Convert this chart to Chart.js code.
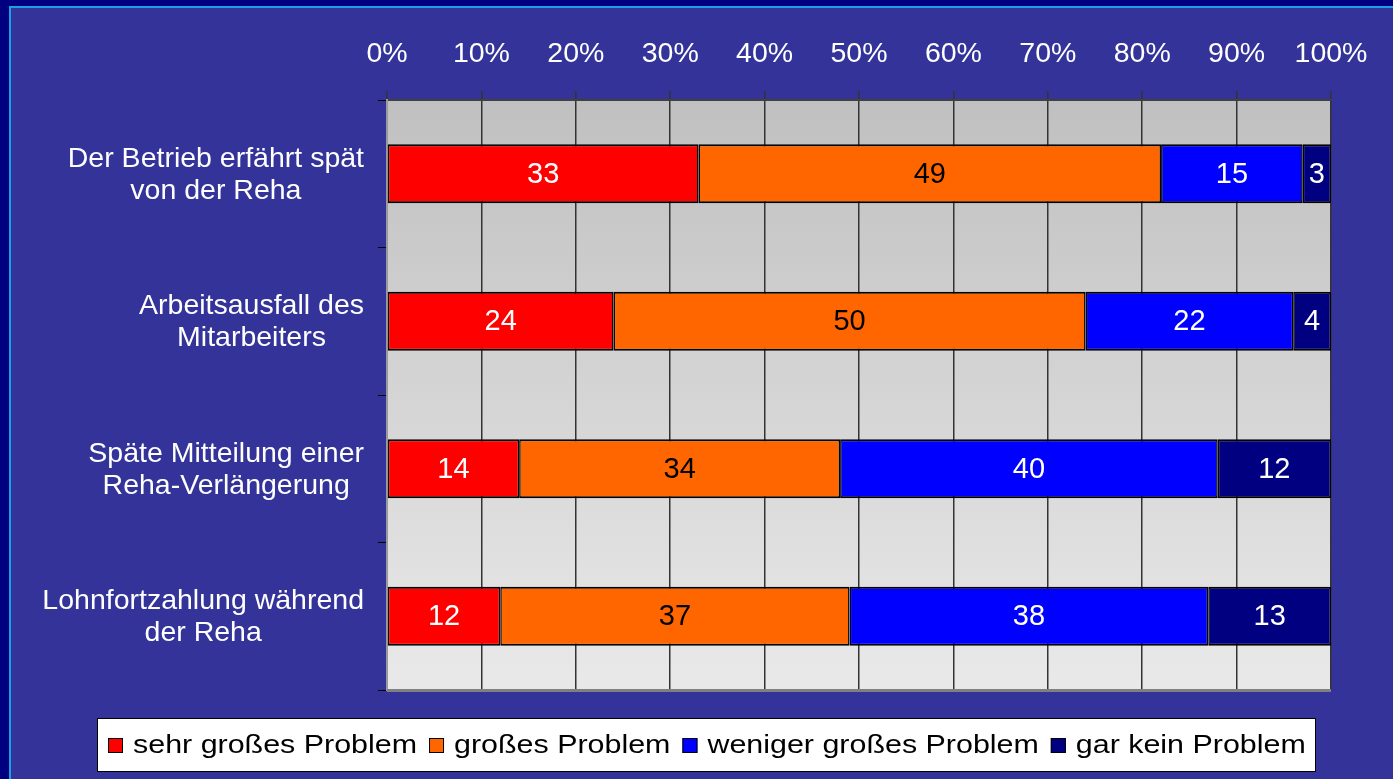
<!DOCTYPE html>
<html lang="de">
<head>
<meta charset="utf-8">
<title>Probleme für den Betrieb</title>
<script src="https://cdn.jsdelivr.net/npm/chart.js"></script>
<style>
  html, body { margin: 0; padding: 0; background: #000080; overflow: hidden; }
  canvas { display: block; }
</style>
</head>
<body>
<canvas id="problemChart" width="1393" height="779"></canvas>
<script>
// categories (two-line labels) and the four answer groups, in percent
const categories = [
    ['Der Betrieb erfährt spät', 'von der Reha'],
    ['Arbeitsausfall des', 'Mitarbeiters'],
    ['Späte Mitteilung einer', 'Reha-Verlängerung'],
    ['Lohnfortzahlung während', 'der Reha']
];
const seriesNames = ['sehr großes Problem', 'großes Problem', 'weniger großes Problem', 'gar kein Problem'];
const sehrGross = [33, 24, 14, 12];
const gross = [49, 50, 34, 37];
const wenigerGross = [15, 22, 40, 38];
const garKein = [3, 4, 12, 13];
const seriesColors = ['#ff0000', '#ff6600', '#0000ff', '#000080'];
const valueColors = ['#ffffff', '#000000', '#ffffff', '#ffffff'];

const FONT = '"Liberation Sans", Arial, sans-serif';

// slide background with the light frame line
const slideBackground = {
    id: 'slideBackground',
    beforeDraw(chart) {
        const ctx = chart.ctx;
        const area = chart.chartArea;
        ctx.save();
        ctx.fillStyle = '#000080';
        ctx.fillRect(0, 0, chart.width, chart.height);
        ctx.fillStyle = '#333399';
        ctx.fillRect(10, 7, chart.width, chart.height);
        ctx.strokeStyle = '#1ba1e2';
        ctx.lineWidth = 2;
        ctx.beginPath();
        ctx.moveTo(chart.width, 7);
        ctx.lineTo(10, 7);
        ctx.lineTo(10, chart.height);
        ctx.stroke();
        // grey gradient of the plot area
        const grad = ctx.createLinearGradient(0, area.top, 0, area.bottom);
        grad.addColorStop(0, '#c0c0c0');
        grad.addColorStop(1, '#e9e9e9');
        ctx.fillStyle = grad;
        ctx.fillRect(area.left, area.top, area.right - area.left, area.bottom - area.top);
        ctx.restore();
    },
    beforeDatasetsDraw(chart) {
        const ctx = chart.ctx;
        const area = chart.chartArea;
        ctx.save();
        ctx.fillStyle = '#808080';
        ctx.fillRect(area.left, area.bottom - 1, area.right - area.left, 3);
        ctx.restore();
    }
};

// value labels in the middle of each segment
const valueLabels = {
    id: 'valueLabels',
    afterDatasetsDraw(chart) {
        const ctx = chart.ctx;
        ctx.save();
        ctx.font = '29px ' + FONT;
        ctx.textAlign = 'center';
        ctx.textBaseline = 'middle';
        chart.data.datasets.forEach((ds, i) => {
            const meta = chart.getDatasetMeta(i);
            meta.data.forEach((bar, j) => {
                const p = bar.getProps(['x', 'y', 'base'], true);
                ctx.fillStyle = valueColors[i];
                ctx.fillText(String(ds.data[j]), (p.x + p.base) / 2, p.y + 1);
            });
        });
        ctx.restore();
    }
};

// category labels: each block right aligned, lines centred inside the block
const categoryLabels = {
    id: 'categoryLabels',
    afterDraw(chart) {
        const ctx = chart.ctx;
        const yScale = chart.scales.y;
        const area = chart.chartArea;
        ctx.save();
        ctx.font = '28.5px ' + FONT;
        ctx.fillStyle = '#ffffff';
        ctx.textAlign = 'center';
        ctx.textBaseline = 'middle';
        categories.forEach((lines, i) => {
            const py = yScale.getPixelForValue(i);
            const w = Math.max(...lines.map(l => ctx.measureText(l).width));
            const cx = area.left - 23 - w / 2;
            lines.forEach((line, k) => {
                ctx.fillText(line, cx, py + 1 + (k - (lines.length - 1) / 2) * 32);
            });
        });
        ctx.restore();
    }
};

// legend in a white box below the plot
const legendBox = {
    id: 'legendBox',
    afterDraw(chart) {
        const ctx = chart.ctx;
        const area = chart.chartArea;
        const fontSize = 26, stretch = 1.17, box = 15, gapIn = 10, gapOut = 12;
        ctx.save();
        ctx.font = fontSize + 'px ' + FONT;
        const widths = seriesNames.map(n => ctx.measureText(n).width * stretch);
        const total = widths.reduce((a, b) => a + b, 0)
            + seriesNames.length * (box + gapIn) + (seriesNames.length - 1) * gapOut;
        const cx = (chart.width + 20) / 2;
        const left = Math.round(cx - total / 2 - 11);
        const right = Math.round(cx + total / 2 + 11);
        const top = Math.round(area.bottom + 28), h = 54, cy = top + h / 2;
        ctx.fillStyle = '#ffffff';
        ctx.fillRect(left, top, right - left, h);
        ctx.strokeStyle = '#000000';
        ctx.lineWidth = 1;
        ctx.strokeRect(left + 0.5, top + 0.5, right - left - 1, h - 1);
        let x = Math.round(cx - total / 2);
        seriesNames.forEach((name, i) => {
            ctx.fillStyle = seriesColors[i];
            ctx.fillRect(x, Math.round(cy - box / 2), box, box);
            ctx.strokeRect(x + 0.5, Math.round(cy - box / 2) + 0.5, box - 1, box - 1);
            x += box + gapIn;
            ctx.save();
            ctx.translate(x, cy + 1);
            ctx.scale(stretch, 1);
            ctx.fillStyle = '#000000';
            ctx.textAlign = 'left';
            ctx.textBaseline = 'middle';
            ctx.fillText(name, 0, 0);
            ctx.restore();
            x += widths[i] + gapOut;
        });
        ctx.restore();
    }
};

const seriesData = [sehrGross, gross, wenigerGross, garKein];

const ctx = document.getElementById('problemChart').getContext('2d');
const problemChart = new Chart(ctx, {
    type: 'bar',
    data: {
        labels: categories,
        datasets: seriesData.map((values, i) => ({
            label: seriesNames[i],
            data: values,
            backgroundColor: seriesColors[i],
            borderColor: '#000000',
            borderWidth: { top: 2, bottom: 2, left: 1.5, right: 1.5 },
            borderSkipped: false,
            categoryPercentage: 1,
            barPercentage: 0.4
        }))
    },
    options: {
        indexAxis: 'y',
        responsive: false,
        animation: false,
        layout: { padding: { left: 0, right: 62, top: 0, bottom: 89 } },
        plugins: {
            legend: { display: false },
            tooltip: { enabled: false }
        },
        scales: {
            x: {
                position: 'top',
                stacked: true,
                min: 0,
                max: 100,
                afterFit: scale => { scale.height = 100; },
                ticks: {
                    stepSize: 10,
                    padding: 20,
                    color: '#ffffff',
                    font: { size: 28.5, family: FONT },
                    callback: v => v + '%'
                },
                grid: { color: '#333333', lineWidth: 1.5, tickLength: 9 },
                border: { color: '#404040', width: 2 }
            },
            y: {
                stacked: true,
                afterFit: scale => { scale.width = 387; },
                ticks: { display: false },
                grid: { drawOnChartArea: false, color: '#000000', tickLength: 9, offset: true },
                border: { color: '#9a9a9a', width: 2 }
            }
        }
    },
    plugins: [slideBackground, valueLabels, categoryLabels, legendBox]
});
</script>
</body>
</html>
